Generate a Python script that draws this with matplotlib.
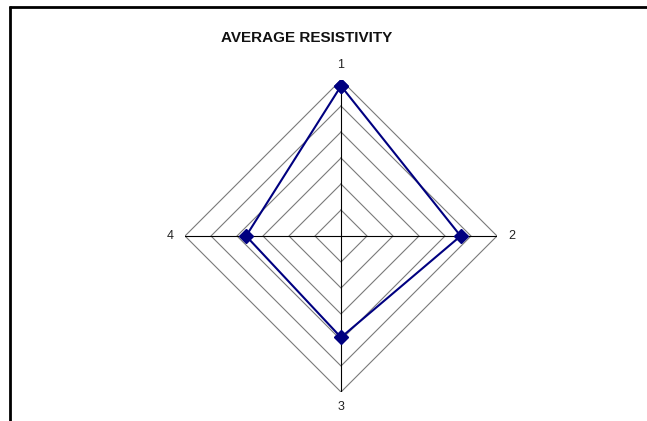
import numpy as np
import matplotlib
matplotlib.use("Agg")
import matplotlib.pyplot as plt
from matplotlib.lines import Line2D

# Average resistivity at four stations
categories = ["1", "2", "3", "4"]
resistivity = [115.4, 92.0, 78.0, 73.0]
ring_values = [20, 40, 60, 80, 100, 120]

W, H, DPI = 647, 421, 100
fig = plt.figure(figsize=(W / DPI, H / DPI), dpi=DPI)
fig.patch.set_facecolor("white")

# Partial frame: top and left edges only
fig.add_artist(Line2D([9 / W, 1], [1 - 7 / H, 1 - 7 / H], transform=fig.transFigure,
                      color="black", lw=2, solid_capstyle="butt"))
fig.add_artist(Line2D([10 / W, 10 / W], [0, 1 - 6 / H], transform=fig.transFigure,
                      color="black", lw=2, solid_capstyle="butt"))

cx, cy, R = 341, 236, 156
ax = fig.add_axes([(cx - R) / W, (H - cy - R) / H, 2 * R / W, 2 * R / H], projection="polar")
ax.set_theta_zero_location("N")
ax.set_theta_direction(-1)
rmax = ring_values[-1]
ax.set_ylim(0, rmax)
ax.grid(False)
ax.set_xticks([])
ax.set_yticks([])
ax.spines["polar"].set_visible(False)
ax.patch.set_alpha(0)

n = len(categories)
theta = np.arange(n) * 2 * np.pi / n
closed = np.append(theta, theta[0])

# Concentric rings as straight-edged polygons
for rv in ring_values:
    ax.plot(closed, [rv] * (n + 1), color="#7a7a7a", lw=0.8, zorder=1)

# Spokes
for t in theta:
    ax.plot([t, t], [0, rmax], color="black", lw=0.8, zorder=2)

# Data series
vals = resistivity + resistivity[:1]
ax.plot(closed, vals, color="#000080", lw=1.5, marker="D", markersize=7.5,
        markerfacecolor="#000080", markeredgecolor="#000080", zorder=3)

# Category labels just outside the outer ring
for t, lab in zip(theta, categories):
    ax.text(t, rmax * 1.095, lab, ha="center", va="center", fontsize=9,
            color="#222222", family="Liberation Sans")

fig.text(307 / W, 1 - 37.5 / H, "AVERAGE RESISTIVITY", ha="center", va="center",
         fontsize=11, fontweight="bold", family="Liberation Sans", color="#111111")

fig.savefig("out.png", dpi=DPI, facecolor="white")
